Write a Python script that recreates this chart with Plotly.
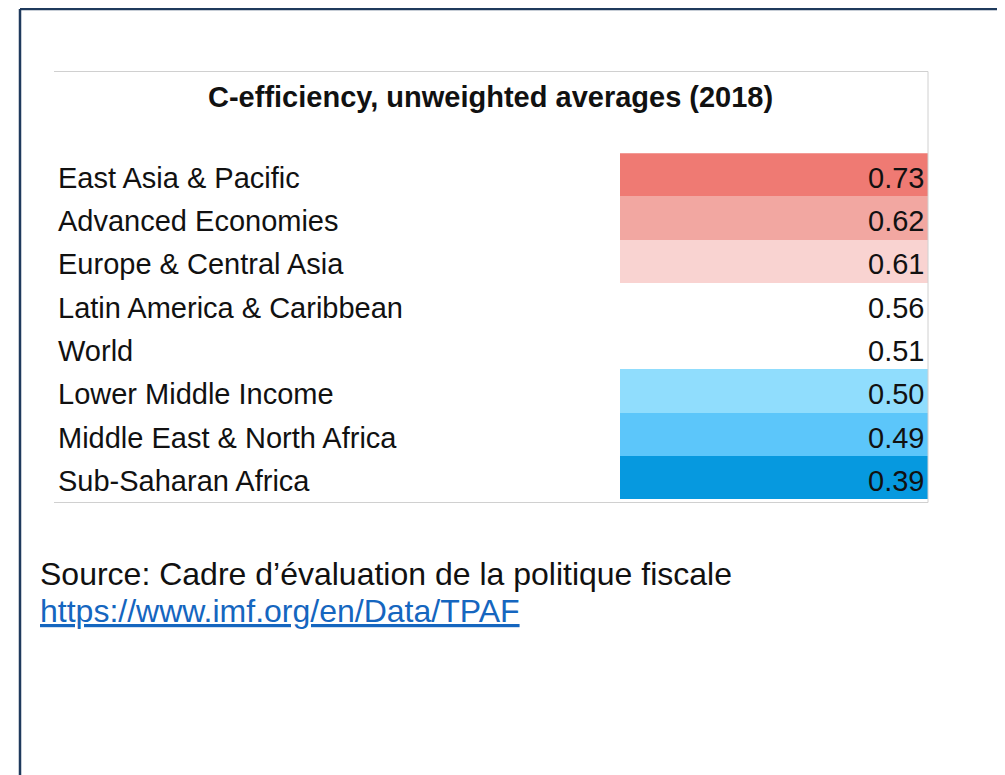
import plotly.graph_objects as go

# ---- data ----
categories = [
    "East Asia & Pacific",
    "Advanced Economies",
    "Europe & Central Asia",
    "Latin America & Caribbean",
    "World",
    "Lower Middle Income",
    "Middle East & North Africa",
    "Sub-Saharan Africa",
]
values = [0.73, 0.62, 0.61, 0.56, 0.51, 0.50, 0.49, 0.39]
title_text = "C-efficiency, unweighted averages (2018)"
source_text = "Source: Cadre d’évaluation de la politique fiscale"
link_text = "https://www.imf.org/en/Data/TPAF"

# ---- styles ----
cell_colors = ["#EF7A73", "#F2A7A1", "#F9D3D1", "#FFFFFF", "#FFFFFF",
               "#90DDFD", "#5CC6FA", "#0699DF"]
FONT = "Liberation Sans, Arial, sans-serif"
W, H = 1005, 775
OFF = 8  # page body margin

def px(x):
    return (x - OFF) / W

def py(y):
    return 1 - (y - OFF) / H

fig = go.Figure()

# each cell spans the full width of the value column
cell_span = [1 for _ in categories]

fig.add_trace(go.Bar(
    orientation="h",
    y=categories,
    x=cell_span,
    marker=dict(color=cell_colors, line=dict(width=0)),
    hoverinfo="skip",
    showlegend=False,
))

annotations = []
for c, v, s in zip(categories, values, cell_span):
    annotations.append(dict(
        x=px(56), xref="paper", xanchor="left",
        y=c, yref="y", yanchor="middle", yshift=-3,
        text=c, showarrow=False,
        font=dict(family=FONT, size=29, color="#111111"),
    ))
    annotations.append(dict(
        x=s, xref="x", xanchor="right", xshift=-2,
        y=c, yref="y", yanchor="middle", yshift=-3,
        text=f"{v:.2f}", showarrow=False,
        font=dict(family=FONT, size=29, color="#111111"),
    ))

annotations.append(dict(
    x=px(490), xref="paper", xanchor="center",
    y=py(97), yref="paper", yanchor="middle",
    text=f"<b>{title_text}</b>", showarrow=False,
    font=dict(family=FONT, size=29, color="#111111"),
))
annotations.append(dict(
    x=px(38), xref="paper", xanchor="left",
    y=py(574), yref="paper", yanchor="middle",
    text=source_text, showarrow=False,
    font=dict(family=FONT, size=32, color="#111111"),
))
annotations.append(dict(
    x=px(38), xref="paper", xanchor="left",
    y=py(611), yref="paper", yanchor="middle",
    text=f'<span style="text-decoration:underline">{link_text}</span>',
    showarrow=False,
    font=dict(family=FONT, size=32, color="#1566BF"),
))

line_grey = dict(color="#D0D0D0", width=1)
navy = dict(color="#1F3A5C", width=2.5)
shapes = [
    # outer frame
    dict(type="line", xref="paper", yref="paper", x0=px(20), x1=1.02, y0=py(9), y1=py(9), line=navy),
    dict(type="line", xref="paper", yref="paper", x0=px(20), x1=px(20), y0=py(9), y1=-0.02, line=navy),
    # table frame
    dict(type="line", xref="paper", yref="paper", x0=px(54), x1=px(928), y0=py(71.5), y1=py(71.5), line=line_grey),
    dict(type="line", xref="paper", yref="paper", x0=px(928), x1=px(928), y0=py(71.5), y1=py(502.5), line=line_grey),
    dict(type="line", xref="paper", yref="paper", x0=px(54), x1=px(928), y0=py(502.5), y1=py(502.5), line=line_grey),
]

fig.update_layout(
    width=W, height=H,
    margin=dict(l=0, r=0, t=0, b=0),
    paper_bgcolor="#FFFFFF",
    plot_bgcolor="rgba(0,0,0,0)",
    bargap=0,
    xaxis=dict(domain=[px(620), px(928)], range=[0, 1], visible=False, fixedrange=True),
    yaxis=dict(domain=[py(499.5), py(153.3)], categoryorder="array", categoryarray=categories,
               range=[len(categories) - 0.5, -0.5], visible=False, fixedrange=True),
    annotations=annotations,
    shapes=shapes,
    font=dict(family=FONT),
)

fig.write_html("out.html")
